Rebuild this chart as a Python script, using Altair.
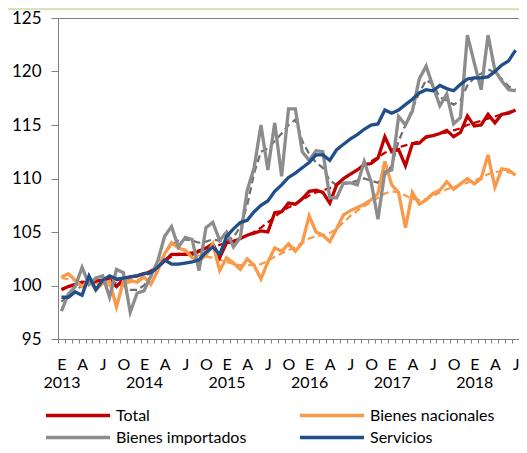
import json
import altair as alt
import pandas as pd

# ---- data ----
letras_mes = ["E", "", "", "A", "", "", "J", "", "", "O", "", ""]
anios = ["2013", "2014", "2015", "2016", "2017", "2018"]
series = ["Total", "Bienes nacionales", "Bienes importados", "Servicios"]
colores = ["#C00000", "#F9994A", "#8C8C8C", "#1F4E89"]

total = [99.6, 99.9, 100.1, 100.3, 100.2, 100.4, 100.5, 100.6, 99.9, 100.6, 100.8, 100.9,
         101.1, 101.2, 101.7, 102.3, 102.9, 102.9, 102.9, 102.9, 103.2, 103.5, 103.9, 102.6,
         104.0, 104.1, 104.4, 104.7, 104.9, 105.1, 105.0, 106.8, 106.9, 107.7, 107.6, 108.1,
         108.8, 108.9, 108.7, 107.7, 109.4, 110.0, 110.4, 110.8, 111.3, 111.4, 111.9, 113.9,
         112.5, 112.7, 111.2, 113.25, 113.3, 113.9, 114.0, 114.2, 114.5, 113.9, 114.3, 115.85,
         114.9, 115.0, 116.0, 115.2, 116.0, 116.1, 116.4]
nacionales = [100.8, 101.1, 100.5, 99.9, 100.5, 99.6, 100.2, 100.4, 98.0, 100.4, 100.5, 100.3,
              100.8, 100.1, 101.4, 103.0, 104.0, 103.5, 103.3, 102.6, 102.3, 102.8, 103.9, 101.4,
              102.6, 102.1, 101.5, 102.5, 101.9, 100.6, 102.2, 103.5, 103.2, 103.9, 103.2, 104.0,
              106.5, 105.0, 104.7, 104.1, 105.3, 106.6, 107.0, 107.3, 107.6, 108.0, 108.6, 111.6,
              109.4, 108.7, 105.4, 108.7, 107.6, 108.0, 108.6, 108.9, 109.7, 109.0, 109.5, 110.0,
              109.5, 110.0, 112.2, 109.2, 110.9, 110.8, 110.3]
importados = [97.6, 99.2, 99.9, 101.7, 100.1, 100.7, 100.9, 98.9, 101.5, 101.2, 97.5, 99.3,
              99.5, 100.9, 102.3, 104.6, 105.5, 103.6, 104.5, 104.3, 101.4, 105.4, 105.9, 104.2,
              105.0, 103.6, 104.5, 108.9, 111.0, 115.0, 110.8, 115.2, 110.2, 116.5, 116.5, 112.5,
              111.7, 112.6, 112.5, 108.2, 108.2, 109.6, 109.6, 109.4, 111.6, 109.7, 106.2, 110.6,
              110.8, 115.8, 115.0, 116.3, 119.3, 120.5, 118.6, 116.8, 117.9, 115.1, 115.7, 123.4,
              120.8, 118.3, 123.4, 120.1, 119.1, 118.3, 118.2]
servicios = [98.9, 98.9, 99.4, 99.1, 100.9, 99.6, 100.5, 100.9, 100.6, 100.7, 100.8, 100.9,
             101.1, 101.2, 101.7, 102.4, 102.0, 102.0, 102.1, 102.2, 102.4, 103.1, 103.6, 102.9,
             104.6, 105.3, 105.9, 106.1, 106.9, 107.5, 107.9, 108.8, 109.4, 110.1, 110.5, 111.0,
             111.5, 112.2, 112.2, 111.7, 112.7, 113.2, 113.7, 114.1, 114.6, 115.0, 115.1, 116.4,
             116.1, 116.4, 116.9, 117.4, 118.0, 118.3, 118.2, 118.7, 118.4, 118.2, 118.8, 119.3,
             119.4, 119.4, 119.5, 120.0, 120.6, 121.0, 122.0]

# dashed (trend) series
total_tend = [99.7, 99.9, 100.1, 100.2, 100.3, 100.4, 100.5, 100.5, 100.5, 100.6, 100.8, 100.9,
              101.1, 101.4, 101.8, 102.3, 102.7, 102.9, 103.0, 103.1, 103.3, 103.5, 103.7, 103.8,
              104.0, 104.2, 104.4, 104.7, 105.0, 105.4, 105.9, 106.4, 106.9, 107.3, 107.6, 108.0,
              108.4, 108.7, 108.9, 109.1, 109.5, 110.0, 110.4, 110.8, 111.2, 111.6, 112.0, 112.4,
              112.7, 112.9, 113.1, 113.3, 113.5, 113.8, 114.0, 114.2, 114.3, 114.5, 114.7, 115.0,
              115.2, 115.4, 115.6, 115.8, 116.0, 116.2, 116.4]
nacionales_tend = [100.7, 100.6, 100.5, 100.4, 100.3, 100.2, 100.1, 100.0, 100.0, 100.1, 100.3, 100.5,
                   100.8, 101.2, 101.8, 102.4, 102.8, 103.0, 103.0, 102.9, 102.8, 102.7, 102.6, 102.4,
                   102.2, 102.0, 101.9, 101.9, 101.9, 102.0, 102.3, 102.7, 103.0, 103.3, 103.6, 104.0,
                   104.4, 104.6, 104.7, 104.9, 105.3, 105.9, 106.5, 107.0, 107.4, 107.8, 108.2, 108.6,
                   108.8, 108.7, 108.4, 108.1, 108.0, 108.1, 108.4, 108.7, 109.0, 109.2, 109.4, 109.6,
                   109.8, 110.1, 110.4, 110.6, 110.7, 110.6, 110.4]
importados_tend = [98.5, 99.0, 99.5, 100.0, 100.3, 100.5, 100.5, 100.3, 100.2, 100.0, 99.6, 99.6,
                   100.0, 100.8, 101.8, 103.0, 103.8, 104.2, 104.3, 104.2, 104.0, 104.1, 104.3, 104.2,
                   104.2, 104.5, 105.5, 107.5, 110.5, 112.5, 112.8, 113.5, 114.2, 115.0, 115.5, 113.5,
                   112.3, 111.5, 111.0, 109.8, 109.4, 109.5, 109.6, 109.8, 110.0, 109.8, 109.6, 110.3,
                   111.2, 113.5, 115.0, 116.5, 118.0, 119.2, 118.8, 117.6, 117.3, 116.9, 117.3, 118.7,
                   119.4, 119.8, 120.2, 119.9, 119.3, 118.6, 118.3]

n = len(total)
meses = list(range(n))

solid = pd.DataFrame({
    "mes": meses * 4,
    "serie": sum([[s] * n for s in series], []),
    "valor": total + nacionales + importados + servicios,
})
tend = pd.DataFrame({
    "mes": meses * 3,
    "serie": sum([[s] * n for s in series[:3]], []),
    "valor": total_tend + nacionales_tend + importados_tend,
})

# x labels: quarter letters, year under January
etiquetas = []
for i in meses:
    m = i % 12
    if m == 0:
        etiquetas.append([letras_mes[0], anios[i // 12]])
    else:
        etiquetas.append(letras_mes[m])
label_expr = json.dumps(etiquetas) + "[datum.value]"

W, H = 461, 321
band = W / n
FONT = "Lato"

x_enc = alt.X(
    "mes:Q",
    scale=alt.Scale(domain=[-0.5, n - 0.5], nice=False, zero=False),
    axis=alt.Axis(
        values=meses, tickOffset=-band / 2, labelOffset=band / 2, tickSize=4,
        labelExpr=label_expr, labelOverlap=False, labelFlush=False, labelBound=False,
        labelPadding=13, labelBaseline="top", labelLineHeight=18.5, labelFontSize=16,
        labelFont=FONT, labelColor="#000000", domain=False, grid=False, title=None,
        tickColor="#808080",
    ),
)
y_enc = alt.Y(
    "valor:Q",
    scale=alt.Scale(domain=[95, 125], nice=False, zero=False),
    axis=alt.Axis(
        values=[95, 100, 105, 110, 115, 120, 125], tickSize=7, labelPadding=10,
        labelFontSize=17, labelFont=FONT, labelColor="#000000", domain=False,
        grid=False, title=None, tickColor="#808080",
    ),
)

dash_colors = {"Total": "#C00000", "Bienes nacionales": "#F9994A", "Bienes importados": "#6E6E6E"}
dash_layers = []
for s in series[:3]:
    dash_layers.append(
        alt.Chart(tend).transform_filter(alt.datum.serie == s)
        .mark_line(strokeWidth=2.2, strokeDash=[7, 4])
        .encode(x=x_enc, y=y_enc, color=alt.value(dash_colors[s]))
    )

# wide, flat legend symbol: a horizontal segment 4x wider than the nominal symbol box
LEG_SYMBOL = "M-4,0L4,0"

lines = alt.Chart(solid).mark_line(strokeWidth=3.3).encode(
    x=x_enc,
    y=y_enc,
    color=alt.Color(
        "serie:N",
        sort=series,
        scale=alt.Scale(domain=series, range=colores),
        legend=alt.Legend(
            orient="none", legendX=10, legendY=387.5, direction="horizontal", columns=2,
            symbolType=LEG_SYMBOL, symbolSize=256, symbolStrokeWidth=3.5, title=None,
            labelFont=FONT, labelFontSize=16, labelColor="#000000", labelOffset=28,
            columnPadding=46, rowPadding=4, padding=0, labelLimit=300,
        ),
    ),
)

band_top = alt.Chart(pd.DataFrame({"a": [0]})).mark_rect(color="#D9E4BF").encode(
    x=alt.value(-60), x2=alt.value(W + 10), y=alt.value(-11), y2=alt.value(-7.8)
)

chart = alt.layer(band_top, *dash_layers, lines).properties(
    width=W, height=H,
    autosize=alt.AutoSizeParams(type="none"),
    padding={"left": 50, "top": 10, "right": 0, "bottom": 105.5},
).configure_view(stroke="#808080", strokeWidth=1)

chart.save("out.html", embed_options={"renderer": "svg", "actions": False})
